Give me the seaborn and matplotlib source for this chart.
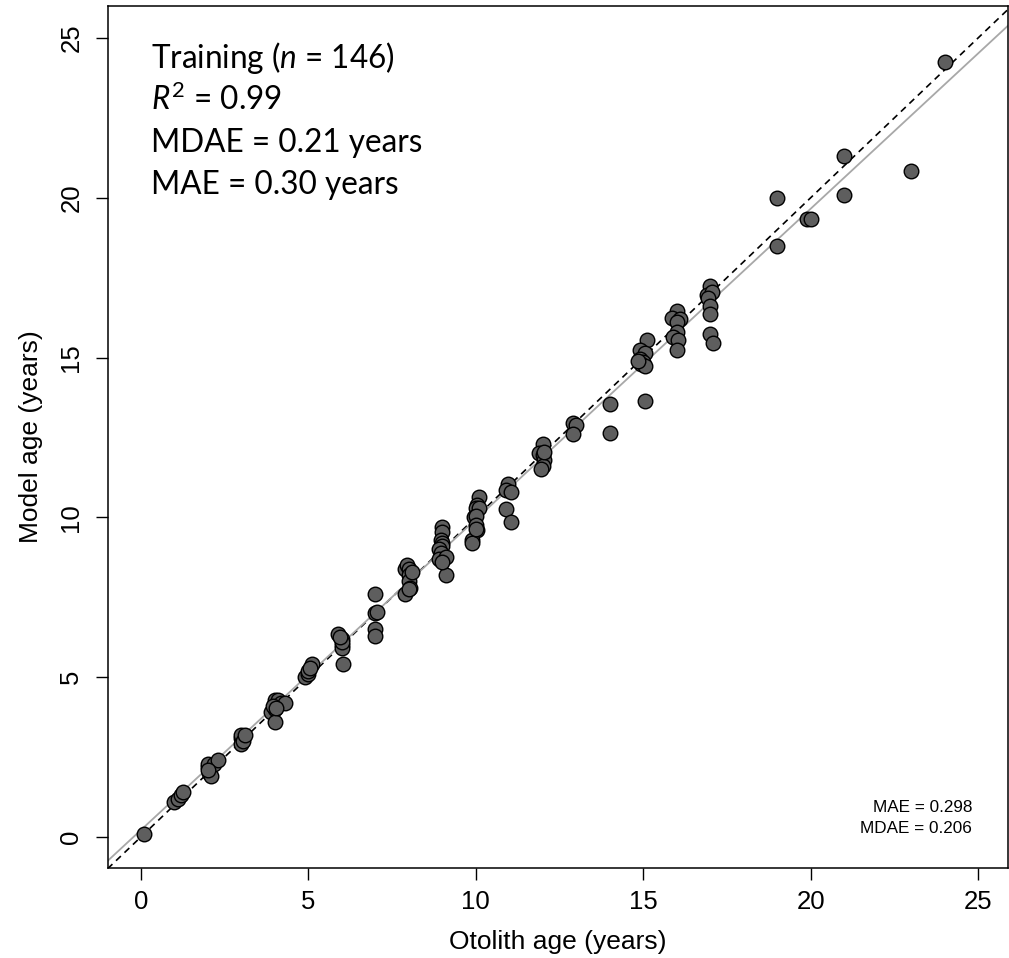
import matplotlib
matplotlib.use("Agg")
import matplotlib.pyplot as plt
import seaborn as sns
import numpy as np
import pandas as pd

# ---- data ----
otolith_age = [
    0.1,
    1.0, 1.1, 1.2, 1.25,
    2.0, 2.0, 2.05, 2.1, 2.2, 2.3, 2.0,
    3.0, 3.0, 3.0, 3.05, 3.1,
    3.9, 4.0, 4.0, 4.0, 4.1, 4.0, 4.2, 4.3, 3.95, 4.05,
    4.9, 5.0, 5.1, 5.0, 5.05,
    5.9, 6.0, 6.0, 6.0, 6.05, 6.0, 5.95,
    7.0, 7.0, 7.05, 7.0, 7.0,
    7.9, 7.95, 8.0, 8.0, 8.0, 8.05, 7.9, 8.0, 8.1,
    9.0, 9.0, 8.95, 9.0, 9.0, 8.9, 8.95, 8.9, 9.1, 9.1, 9.0,
    10.1, 10.05, 10.0, 10.1, 9.95, 10.0, 10.0, 10.05, 9.9, 9.9, 10.0,
    10.95, 10.9, 11.05, 10.9, 11.05,
    12.0, 11.9, 12.0, 12.05, 12.0, 11.95, 12.05,
    12.9, 13.0, 12.9,
    14.0, 14.0,
    15.1, 14.9, 15.05, 14.9, 15.0, 14.95, 15.05, 15.05, 14.85,
    16.0, 15.85, 16.1, 16.0, 16.0, 15.9, 16.05, 16.0,
    17.0, 16.9, 17.05, 16.95, 17.0, 17.0, 17.0, 17.1,
    19.0, 19.0,
    19.9, 20.0,
    21.0, 21.0,
    23.0,
    24.0,
]
model_age = [
    0.1,
    1.1, 1.2, 1.3, 1.4,
    2.2, 2.3, 2.0, 1.9, 2.3, 2.4, 2.1,
    3.1, 3.2, 2.9, 3.0, 3.2,
    3.9, 4.0, 4.2, 4.3, 4.3, 3.6, 4.2, 4.2, 4.1, 4.05,
    5.0, 5.1, 5.4, 5.2, 5.3,
    6.35, 6.2, 6.0, 5.9, 5.4, 6.1, 6.25,
    7.6, 7.0, 7.05, 6.5, 6.3,
    8.4, 8.5, 8.4, 8.2, 8.0, 7.8, 7.6, 7.75, 8.3,
    9.7, 9.55, 9.3, 9.2, 9.1, 9.0, 8.9, 8.7, 8.75, 8.2, 8.6,
    10.65, 10.4, 10.3, 10.3, 10.0, 10.05, 9.75, 9.6, 9.3, 9.2, 9.65,
    11.05, 10.85, 10.8, 10.25, 9.85,
    12.3, 12.0, 11.95, 11.8, 11.6, 11.5, 12.05,
    12.95, 12.9, 12.6,
    13.55, 12.65,
    15.55, 15.25, 15.15, 14.95, 14.85, 14.8, 14.75, 13.65, 14.9,
    16.45, 16.25, 16.2, 16.1, 15.8, 15.65, 15.55, 15.25,
    17.25, 16.95, 17.05, 16.85, 16.6, 16.35, 15.75, 15.45,
    20.0, 18.5,
    19.35, 19.35,
    21.3, 20.1,
    20.85,
    24.25,
]
tick_values = [0, 5, 10, 15, 20, 25]
fit_intercept = 0.216
fit_slope = 0.972
stats_lines = [r"Training ($\mathit{n}$ = 146)", r"$\mathit{R}^2$ = 0.99",
               "MDAE = 0.21 years", "MAE = 0.30 years"]
corner_lines = ["MAE = 0.298", "MDAE = 0.206"]

df = pd.DataFrame({"otolith": otolith_age, "model": model_age})

sns.set_style("white")
plt.rcParams["font.family"] = ["Liberation Sans", "DejaVu Sans"]
plt.rcParams["mathtext.fontset"] = "custom"
plt.rcParams["mathtext.it"] = "Lato:italic"
plt.rcParams["mathtext.rm"] = "Lato"
plt.rcParams["text.color"] = "black"
plt.rcParams["axes.labelcolor"] = "black"

fig = plt.figure(figsize=(10.09, 9.58), dpi=100)
ax = fig.add_axes([0.1067, 0.0939, 0.8925, 0.8998])

xlim = (-0.99, 25.9)
ylim = (-0.97, 26.0)

# 1:1 line (dashed) and fitted line (solid grey)
xx = np.array([-2.0, 28.0])
ax.plot(xx, xx, color="black", ls=(0, (4, 3)), lw=1.2, zorder=1)
ax.plot(xx, fit_intercept + fit_slope * xx, color="#a8a8a8", lw=1.3, zorder=1)

sns.scatterplot(data=df, x="otolith", y="model", ax=ax, s=110,
                color="#5e5e5e", edgecolor="black", linewidth=1.0, zorder=3)

ax.set_xlim(*xlim)
ax.set_ylim(*ylim)
ax.set_xticks(tick_values)
ax.set_yticks(tick_values)
ax.set_xticklabels([str(v) for v in tick_values])
ax.set_yticklabels([str(v) for v in tick_values], rotation=90, va="center")
ax.tick_params(axis="both", which="major", direction="out", length=8.5, width=1.0,
               labelsize=18.5, colors="black", bottom=True, left=True,
               top=False, right=False)
ax.tick_params(axis="x", pad=7)
ax.tick_params(axis="y", pad=9)
for sp in ax.spines.values():
    sp.set_color("black")
    sp.set_linewidth(1.1)

ax.set_xlabel("Otolith age (years)", fontsize=19, labelpad=12, color="black")
ax.set_ylabel("Model age (years)", fontsize=19, labelpad=12, color="black")

# top-left statistics block
y0 = 0.928
for i, line in enumerate(stats_lines):
    ax.text(0.048, y0 - i * 0.0487, line, transform=ax.transAxes, color="black",
            fontsize=22.7, family=["Lato", "DejaVu Sans"], va="baseline", ha="left")

# bottom-right small stats
ax.text(0.96, 0.0655, corner_lines[0], transform=ax.transAxes, fontsize=12.3,
        ha="right", va="baseline", color="black")
ax.text(0.96, 0.041, corner_lines[1], transform=ax.transAxes, fontsize=12.3,
        ha="right", va="baseline", color="black")

fig.savefig("out.png", dpi=100)
